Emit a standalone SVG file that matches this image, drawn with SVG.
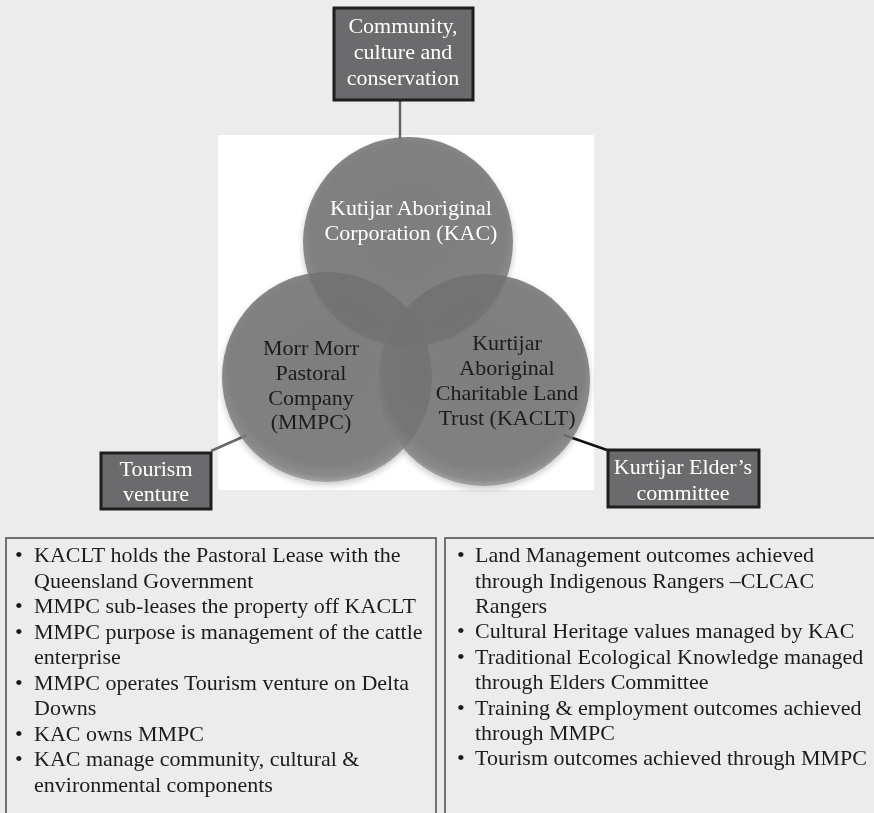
<svg xmlns="http://www.w3.org/2000/svg" width="874" height="813" viewBox="0 0 874 813">
  <defs>
    <radialGradient id="cg" cx="50%" cy="45%" r="55%">
      <stop offset="0" stop-color="#6e6e6e"/>
      <stop offset="0.85" stop-color="#727272"/>
      <stop offset="0.95" stop-color="#7e7e7e"/>
      <stop offset="1" stop-color="#9a9a9a"/>
    </radialGradient>
    <filter id="soft" x="-10%" y="-10%" width="120%" height="125%">
      <feGaussianBlur in="SourceAlpha" stdDeviation="3"/>
      <feOffset dy="3" result="b"/>
      <feComponentTransfer><feFuncA type="linear" slope="0.25"/></feComponentTransfer>
      <feMerge><feMergeNode/><feMergeNode in="SourceGraphic"/></feMerge>
    </filter>
  </defs>
  <style>
    .bg { fill: #ececed; }
    .circle { fill: url(#cg); opacity: 0.85; }
    .box { fill: #6b6b6d; stroke: #1e1e1e; stroke-width: 3; }
    .panel { fill: none; stroke: #4a4a4a; stroke-width: 1.5; }
    text { font-family: "Liberation Serif", "Times New Roman", serif; font-size: 22px; }
    .w { fill: #ffffff; text-anchor: middle; }
    .d { fill: #1c1c1c; text-anchor: middle; }
    .li { fill: #1c1c1c; }
    .conn { stroke-width: 2.5; fill: none; }
  </style>
  <rect class="bg" x="0" y="0" width="874" height="813"/>
  <rect x="218" y="135" width="376" height="355" fill="#ffffff"/>

  <g id="connectors">
    <line class="conn" x1="400" y1="100" x2="400" y2="139" stroke="#666666"/>
    <line class="conn" x1="211" y1="451" x2="247" y2="435" stroke="#6a6a6a"/>
    <line class="conn" x1="564" y1="435" x2="607" y2="450" stroke="#111111"/>
  </g>

  <g id="venn" filter="url(#soft)">
    <circle class="circle" cx="408" cy="242" r="105"/>
    <circle class="circle" cx="327" cy="377" r="105"/>
    <circle class="circle" cx="484" cy="380" r="106"/>
  </g>

  <g id="kac">
    <text class="w" x="411" y="215">Kutijar Aboriginal</text>
    <text class="w" x="411" y="240">Corporation (KAC)</text>
  </g>
  <g id="mmpc">
    <text class="d" x="311" y="355">Morr Morr</text>
    <text class="d" x="311" y="380">Pastoral</text>
    <text class="d" x="311" y="405">Company</text>
    <text class="d" x="311" y="429">(MMPC)</text>
  </g>
  <g id="kaclt">
    <text class="d" x="507" y="350">Kurtijar</text>
    <text class="d" x="507" y="375">Aboriginal</text>
    <text class="d" x="507" y="400">Charitable Land</text>
    <text class="d" x="507" y="425">Trust (KACLT)</text>
  </g>

  <g id="community">
    <rect class="box" x="334" y="8" width="139" height="92"/>
    <text class="w" x="403" y="33">Community,</text>
    <text class="w" x="403" y="59">culture and</text>
    <text class="w" x="403" y="85">conservation</text>
  </g>
  <g id="tourism">
    <rect class="box" x="101" y="453" width="110" height="56"/>
    <text class="w" x="156" y="476">Tourism</text>
    <text class="w" x="156" y="501">venture</text>
  </g>
  <g id="elders">
    <rect class="box" x="608" y="450" width="151" height="57"/>
    <text class="w" x="683" y="474">Kurtijar Elder’s</text>
    <text class="w" x="683" y="500">committee</text>
  </g>

  <g id="left-panel">
    <rect class="panel" x="6" y="538" width="430" height="290"/>
    <g class="li">
      <text x="15" y="562">•</text><text x="34" y="562">KACLT holds the Pastoral Lease with the</text>
      <text x="34" y="588">Queensland Government</text>
      <text x="15" y="613">•</text><text x="34" y="613">MMPC sub-leases the property off KACLT</text>
      <text x="15" y="639">•</text><text x="34" y="639">MMPC purpose is management of the cattle</text>
      <text x="34" y="664">enterprise</text>
      <text x="15" y="690">•</text><text x="34" y="690">MMPC operates Tourism venture on Delta</text>
      <text x="34" y="715">Downs</text>
      <text x="15" y="741">•</text><text x="34" y="741">KAC owns MMPC</text>
      <text x="15" y="766">•</text><text x="34" y="766">KAC manage community, cultural &amp;</text>
      <text x="34" y="792">environmental components</text>
    </g>
  </g>

  <g id="right-panel">
    <rect class="panel" x="445" y="538" width="440" height="290"/>
    <g class="li">
      <text x="457" y="562">•</text><text x="475" y="562">Land Management outcomes achieved</text>
      <text x="475" y="588">through Indigenous Rangers –CLCAC</text>
      <text x="475" y="613">Rangers</text>
      <text x="457" y="638">•</text><text x="475" y="638">Cultural Heritage values managed by KAC</text>
      <text x="457" y="664">•</text><text x="475" y="664">Traditional Ecological Knowledge managed</text>
      <text x="475" y="689">through Elders Committee</text>
      <text x="457" y="715">•</text><text x="475" y="715">Training &amp; employment outcomes achieved</text>
      <text x="475" y="740">through MMPC</text>
      <text x="457" y="765">•</text><text x="475" y="765">Tourism outcomes achieved through MMPC</text>
    </g>
  </g>
</svg>
